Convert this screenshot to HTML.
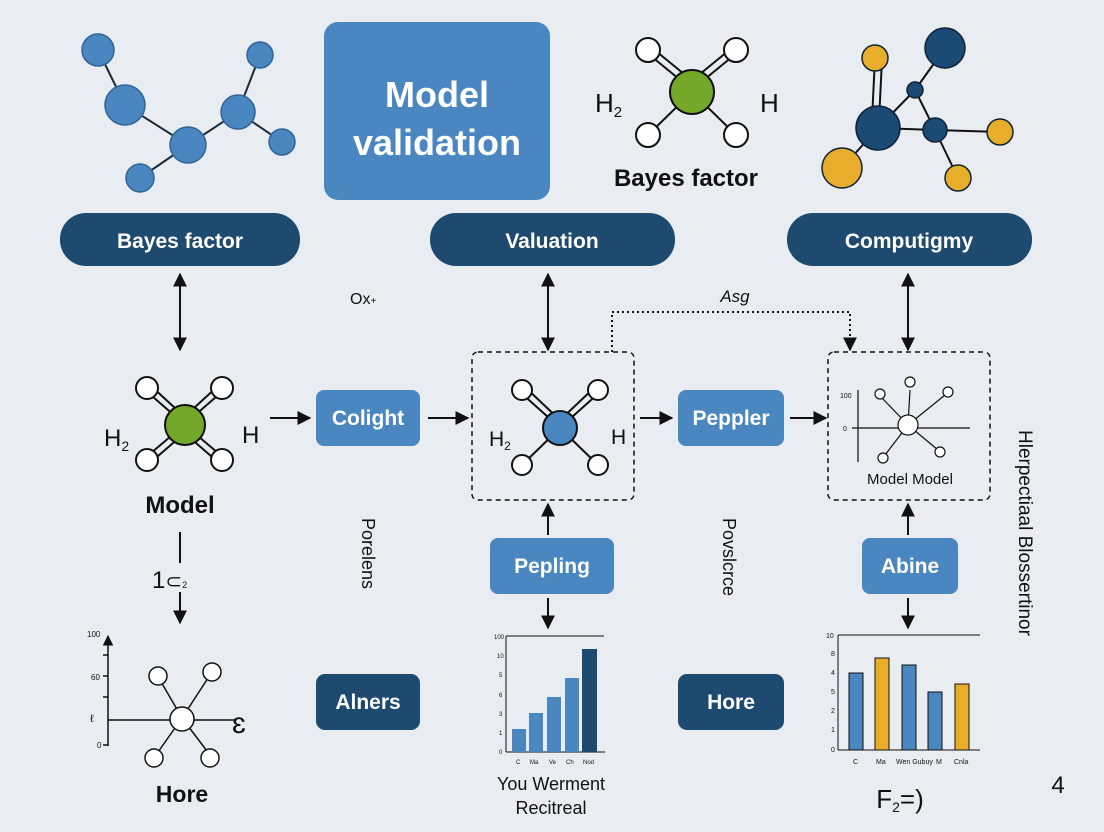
<!DOCTYPE html>
<html><head><style>
html,body{margin:0;padding:0;background:#e9ecf0;}
svg{display:block;font-family:"Liberation Sans",sans-serif;}
</style></head><body>
<svg width="1104" height="832" viewBox="0 0 1104 832">
<defs>
<marker id="a" viewBox="0 0 10 10" refX="9" refY="5" markerWidth="7" markerHeight="7" orient="auto-start-reverse"><path d="M0,0L10,5L0,10z" fill="#111"/></marker>
</defs>
<rect x="0" y="0" width="1104" height="832" rx="14" fill="#e9ecf0"/>
<g stroke="#1d2a38" stroke-width="2">
<line x1="98" y1="50" x2="125" y2="105"/><line x1="125" y1="105" x2="188" y2="145"/><line x1="188" y1="145" x2="238" y2="112"/><line x1="238" y1="112" x2="260" y2="55"/><line x1="238" y1="112" x2="282" y2="142"/><line x1="188" y1="145" x2="140" y2="178"/>
</g>
<g fill="#4a86c0" stroke="#2f6496" stroke-width="1.5">
<circle cx="98" cy="50" r="16"/><circle cx="125" cy="105" r="20"/><circle cx="188" cy="145" r="18"/><circle cx="238" cy="112" r="17"/><circle cx="260" cy="55" r="13"/><circle cx="282" cy="142" r="13"/><circle cx="140" cy="178" r="14"/>
</g>
<rect x="324" y="22" width="226" height="178" rx="14" fill="#4a86c0"/>
<text x="437" y="107" text-anchor="middle" fill="#fff" font-size="36" font-weight="bold">Model</text>
<text x="437" y="155" text-anchor="middle" fill="#fff" font-size="36" font-weight="bold">validation</text>
<g stroke="#111" stroke-width="2">
<line x1="646" y1="52" x2="690" y2="88"/><line x1="651" y1="47" x2="695" y2="83"/>
<line x1="738" y1="52" x2="694" y2="88"/><line x1="733" y1="47" x2="689" y2="83"/>
<line x1="648" y1="135" x2="692" y2="92"/><line x1="736" y1="135" x2="692" y2="92"/>
</g>
<g fill="#fff" stroke="#111" stroke-width="2"><circle cx="648" cy="50" r="12"/><circle cx="736" cy="50" r="12"/><circle cx="648" cy="135" r="12"/><circle cx="736" cy="135" r="12"/></g>
<circle cx="692" cy="92" r="22" fill="#74a82a" stroke="#111" stroke-width="2"/>
<text x="595" y="112" font-size="26" fill="#111">H<tspan font-size="15" dy="5">2</tspan></text>
<text x="760" y="112" font-size="26" fill="#111">H</text>
<text x="686" y="186" text-anchor="middle" font-size="24" font-weight="bold" fill="#111">Bayes factor</text>
<g stroke="#111" stroke-width="2">
<line x1="945" y1="48" x2="915" y2="90"/><line x1="915" y1="90" x2="878" y2="128"/><line x1="915" y1="90" x2="935" y2="130"/><line x1="878" y1="128" x2="935" y2="130"/><line x1="878" y1="128" x2="842" y2="168"/><line x1="935" y1="130" x2="958" y2="178"/><line x1="935" y1="130" x2="1000" y2="132"/><line x1="875" y1="58" x2="872" y2="120"/><line x1="882" y1="60" x2="879" y2="120"/>
</g>
<g stroke="#0f2236" stroke-width="1.5">
<circle cx="945" cy="48" r="20" fill="#1b4a74"/><circle cx="878" cy="128" r="22" fill="#1b4a74"/><circle cx="935" cy="130" r="12" fill="#1b4a74"/><circle cx="915" cy="90" r="8" fill="#1b4a74"/>
<circle cx="842" cy="168" r="20" fill="#e9ad2c"/><circle cx="958" cy="178" r="13" fill="#e9ad2c"/><circle cx="875" cy="58" r="13" fill="#e9ad2c"/><circle cx="1000" cy="132" r="13" fill="#e9ad2c"/>
</g>
<rect x="60" y="213" width="240" height="53" rx="26" fill="#1d4a6e"/>
<text x="180" y="248" text-anchor="middle" fill="#fff" font-size="21" font-weight="bold">Bayes factor</text>
<rect x="430" y="213" width="245" height="53" rx="26" fill="#1d4a6e"/>
<text x="552" y="248" text-anchor="middle" fill="#fff" font-size="21" font-weight="bold">Valuation</text>
<rect x="787" y="213" width="245" height="53" rx="26" fill="#1d4a6e"/>
<text x="909" y="248" text-anchor="middle" fill="#fff" font-size="21" font-weight="bold">Computigmy</text>
<g stroke="#111" stroke-width="2" fill="none">
<line x1="180" y1="274" x2="180" y2="350" marker-start="url(#a)" marker-end="url(#a)"/>
<line x1="548" y1="274" x2="548" y2="350" marker-start="url(#a)" marker-end="url(#a)"/>
<line x1="908" y1="274" x2="908" y2="350" marker-start="url(#a)" marker-end="url(#a)"/>
<path d="M612,352V312H850V350" stroke-dasharray="2,3" marker-end="url(#a)"/>
<line x1="270" y1="418" x2="310" y2="418" marker-end="url(#a)"/>
<line x1="428" y1="418" x2="468" y2="418" marker-end="url(#a)"/>
<line x1="640" y1="418" x2="672" y2="418" marker-end="url(#a)"/>
<line x1="790" y1="418" x2="826" y2="418" marker-end="url(#a)"/>
<line x1="548" y1="535" x2="548" y2="504" marker-end="url(#a)"/>
<line x1="548" y1="598" x2="548" y2="628" marker-end="url(#a)"/>
<line x1="908" y1="535" x2="908" y2="504" marker-end="url(#a)"/>
<line x1="908" y1="598" x2="908" y2="628" marker-end="url(#a)"/>
<line x1="180" y1="532" x2="180" y2="563"/>
<line x1="180" y1="592" x2="180" y2="623" marker-end="url(#a)"/>
</g>
<text x="350" y="304" font-size="16" fill="#111">Ox<tspan font-size="10">+</tspan></text>
<text x="735" y="302" text-anchor="middle" font-size="17" font-style="italic" fill="#111">Asg</text>
<g stroke="#111" stroke-width="2">
<line x1="145" y1="390" x2="183" y2="423"/><line x1="150" y1="385" x2="188" y2="420"/>
<line x1="224" y1="390" x2="186" y2="423"/><line x1="219" y1="385" x2="181" y2="420"/>
<line x1="145" y1="458" x2="183" y2="426"/><line x1="150" y1="463" x2="188" y2="430"/>
<line x1="224" y1="458" x2="186" y2="426"/><line x1="219" y1="463" x2="181" y2="430"/>
</g>
<g fill="#fff" stroke="#111" stroke-width="2"><circle cx="147" cy="388" r="11"/><circle cx="222" cy="388" r="11"/><circle cx="147" cy="460" r="11"/><circle cx="222" cy="460" r="11"/></g>
<circle cx="185" cy="425" r="20" fill="#74a82a" stroke="#111" stroke-width="2"/>
<text x="104" y="446" font-size="24" fill="#111">H<tspan font-size="14" dy="5">2</tspan></text>
<text x="242" y="443" font-size="24" fill="#111">H</text>
<text x="180" y="513" text-anchor="middle" font-size="24" font-weight="bold" fill="#111">Model</text>
<text x="152" y="588" font-size="24" fill="#111">1<tspan font-size="20">⊂</tspan><tspan font-size="9">2</tspan></text>
<rect x="316" y="390" width="104" height="56" rx="8" fill="#4a86c0"/>
<text x="368" y="425" text-anchor="middle" fill="#fff" font-size="21" font-weight="bold">Colight</text>
<rect x="472" y="352" width="162" height="148" rx="6" fill="none" stroke="#111" stroke-width="1.5" stroke-dasharray="5,4"/>
<g stroke="#111" stroke-width="2">
<line x1="520" y1="392" x2="558" y2="426"/><line x1="525" y1="387" x2="563" y2="423"/>
<line x1="600" y1="392" x2="562" y2="426"/><line x1="595" y1="387" x2="557" y2="423"/>
<line x1="522" y1="465" x2="560" y2="428"/><line x1="598" y1="465" x2="560" y2="428"/>
</g>
<g fill="#fff" stroke="#111" stroke-width="2"><circle cx="522" cy="390" r="10"/><circle cx="598" cy="390" r="10"/><circle cx="522" cy="465" r="10"/><circle cx="598" cy="465" r="10"/></g>
<circle cx="560" cy="428" r="17" fill="#4a86c0" stroke="#111" stroke-width="2"/>
<text x="489" y="446" font-size="21" fill="#111">H<tspan font-size="12" dy="4">2</tspan></text>
<text x="611" y="444" font-size="21" fill="#111">H</text>
<rect x="678" y="390" width="106" height="56" rx="8" fill="#4a86c0"/>
<text x="731" y="425" text-anchor="middle" fill="#fff" font-size="21" font-weight="bold">Peppler</text>
<rect x="828" y="352" width="162" height="148" rx="6" fill="none" stroke="#111" stroke-width="1.5" stroke-dasharray="5,4"/>
<g stroke="#111" stroke-width="1.2" fill="none">
<line x1="858" y1="390" x2="858" y2="462"/><line x1="852" y1="428" x2="970" y2="428"/>
<line x1="908" y1="425" x2="910" y2="390"/><line x1="908" y1="425" x2="882" y2="398"/><line x1="908" y1="425" x2="945" y2="395"/><line x1="908" y1="425" x2="885" y2="455"/><line x1="908" y1="425" x2="938" y2="450"/>
</g>
<g fill="#fff" stroke="#111" stroke-width="1.2"><circle cx="908" cy="425" r="10"/><circle cx="910" cy="382" r="5"/><circle cx="880" cy="394" r="5"/><circle cx="948" cy="392" r="5"/><circle cx="883" cy="458" r="5"/><circle cx="940" cy="452" r="5"/></g>
<text x="840" y="398" font-size="7" fill="#111">100</text><text x="843" y="431" font-size="7" fill="#111">0</text>
<text x="910" y="484" text-anchor="middle" font-size="15" fill="#111">Model Model</text>
<text transform="translate(362,518) rotate(90)" font-size="18" fill="#111">Porelens</text>
<text transform="translate(723,518) rotate(90)" font-size="18" fill="#111">Povslcrce</text>
<text transform="translate(1019,430) rotate(90)" font-size="19" fill="#111">Hlerpectiaal Blossertinor</text>
<rect x="490" y="538" width="124" height="56" rx="8" fill="#4a86c0"/>
<text x="552" y="573" text-anchor="middle" fill="#fff" font-size="21" font-weight="bold">Pepling</text>
<rect x="862" y="538" width="96" height="56" rx="8" fill="#4a86c0"/>
<text x="910" y="573" text-anchor="middle" fill="#fff" font-size="21" font-weight="bold">Abine</text>
<rect x="316" y="674" width="104" height="56" rx="9" fill="#1d4a6e"/>
<text x="368" y="709" text-anchor="middle" fill="#fff" font-size="21" font-weight="bold">Alners</text>
<rect x="678" y="674" width="106" height="56" rx="9" fill="#1d4a6e"/>
<text x="731" y="709" text-anchor="middle" fill="#fff" font-size="21" font-weight="bold">Hore</text>
<g stroke="#111" stroke-width="1.5" fill="none">
<line x1="108" y1="636" x2="108" y2="746" marker-start="url(#a)"/>
<line x1="108" y1="720" x2="170" y2="720"/><line x1="194" y1="720" x2="235" y2="720"/>
<line x1="103" y1="655" x2="108" y2="655"/><line x1="103" y1="676" x2="108" y2="676"/><line x1="103" y1="697" x2="108" y2="697"/><line x1="103" y1="745" x2="108" y2="745"/>
<line x1="182" y1="718" x2="160" y2="680"/><line x1="182" y1="718" x2="212" y2="672"/><line x1="182" y1="718" x2="156" y2="755"/><line x1="182" y1="718" x2="210" y2="755"/>
</g>
<g fill="#fff" stroke="#111" stroke-width="1.5"><circle cx="182" cy="719" r="12"/><circle cx="158" cy="676" r="9"/><circle cx="212" cy="672" r="9"/><circle cx="154" cy="758" r="9"/><circle cx="210" cy="758" r="9"/></g>
<text x="87" y="637" font-size="8" fill="#111">100</text><text x="91" y="680" font-size="8" fill="#111">60</text><text x="90" y="722" font-size="11" fill="#111">ℓ</text><text x="97" y="748" font-size="8" fill="#111">0</text>
<text x="232" y="733" font-size="30" fill="#111">ɛ</text>
<text x="182" y="802" text-anchor="middle" font-size="23" font-weight="bold" fill="#111">Hore</text>
<!-- middle chart -->
<g stroke="#111" stroke-width="1"><line x1="506" y1="636" x2="506" y2="752"/><line x1="506" y1="636" x2="604" y2="636"/><line x1="506" y1="752" x2="605" y2="752"/></g>
<rect x="512" y="729" width="14" height="23" fill="#4a86c0"/>
<rect x="529" y="713" width="14" height="39" fill="#4a86c0"/>
<rect x="547" y="697" width="14" height="55" fill="#4a86c0"/>
<rect x="565" y="678" width="14" height="74" fill="#4a86c0"/>
<rect x="582" y="649" width="15" height="103" fill="#1d4a6e"/>
<g font-size="6" fill="#111"><text x="494" y="639">100</text><text x="497" y="658">10</text><text x="499" y="677">5</text><text x="499" y="697">6</text><text x="499" y="716">3</text><text x="499" y="735">1</text><text x="499" y="754">0</text>
<text x="516" y="764">C</text><text x="530" y="764">Ma</text><text x="549" y="764">Ve</text><text x="566" y="764">Ch</text><text x="583" y="764">Nod</text></g>
<text x="551" y="790" text-anchor="middle" font-size="18" fill="#111">You Werment</text>
<text x="551" y="814" text-anchor="middle" font-size="18" fill="#111">Recitreal</text>
<!-- right chart -->
<g stroke="#111" stroke-width="1"><line x1="838" y1="635" x2="838" y2="750"/><line x1="838" y1="635" x2="980" y2="635"/><line x1="838" y1="750" x2="980" y2="750"/></g>
<g stroke="#111" stroke-width="1">
<rect x="849" y="673" width="14" height="77" fill="#4a86c0"/>
<rect x="875" y="658" width="14" height="92" fill="#e9ad2c"/>
<rect x="902" y="665" width="14" height="85" fill="#4a86c0"/>
<rect x="928" y="692" width="14" height="58" fill="#4a86c0"/>
<rect x="955" y="684" width="14" height="66" fill="#e9ad2c"/>
</g>
<g font-size="7" fill="#111"><text x="826" y="638">10</text><text x="831" y="656">8</text><text x="831" y="675">4</text><text x="831" y="694">5</text><text x="831" y="713">2</text><text x="831" y="732">1</text><text x="831" y="752">0</text>
<text x="853" y="764">C</text><text x="876" y="764">Ma</text><text x="896" y="764">Wen Gubuy</text><text x="936" y="764">M</text><text x="954" y="764">Cnla</text></g>
<text x="900" y="808" text-anchor="middle" font-size="26" fill="#111">F<tspan font-size="14" dy="4">2</tspan><tspan dy="-4">=)</tspan></text>
<text x="1058" y="793" text-anchor="middle" font-size="24" fill="#111">4</text>
</svg>
</body></html>
